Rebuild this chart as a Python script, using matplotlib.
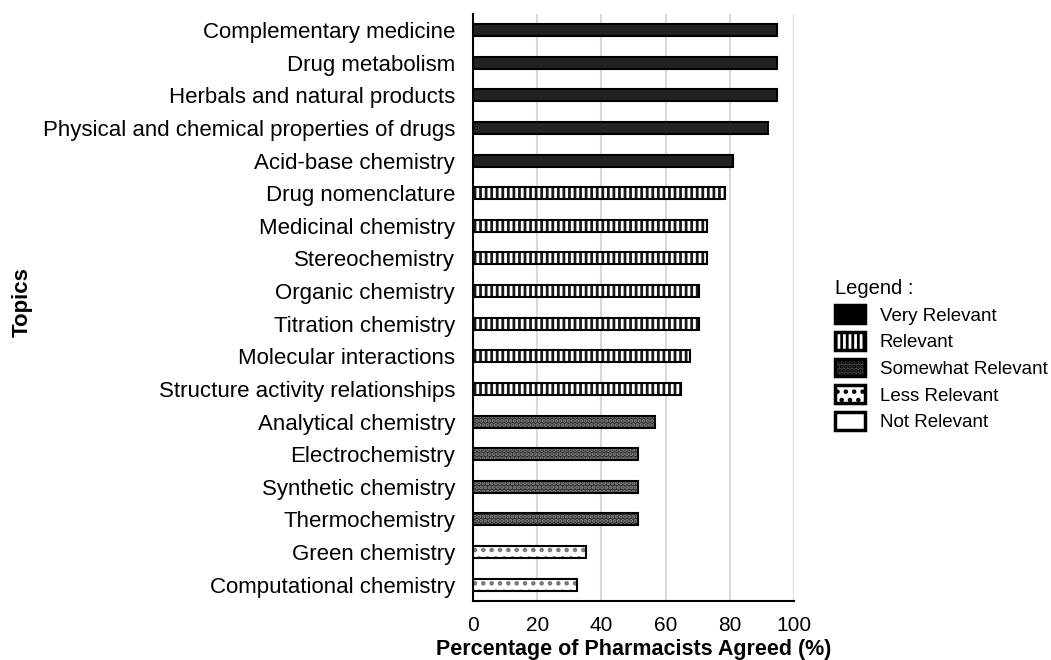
import numpy as np
import matplotlib.pyplot as plt
from matplotlib.patches import Patch

plt.rcParams['font.family'] = ['Liberation Sans', 'DejaVu Sans']
plt.rcParams['hatch.linewidth'] = 2.0

topics = [
    "Complementary medicine", "Drug metabolism", "Herbals and natural products",
    "Physical and chemical properties of drugs", "Acid-base chemistry",
    "Drug nomenclature", "Medicinal chemistry", "Stereochemistry",
    "Organic chemistry", "Titration chemistry", "Molecular interactions",
    "Structure activity relationships", "Analytical chemistry",
    "Electrochemistry", "Synthetic chemistry", "Thermochemistry",
    "Green chemistry", "Computational chemistry",
]
agreed = [94.6, 94.6, 94.6, 91.9, 81.1, 78.4, 73.0, 73.0, 70.3, 70.3,
          67.6, 64.9, 56.8, 51.4, 51.4, 51.4, 35.1, 32.4]
relevance = ["Very Relevant"] * 5 + ["Relevant"] * 7 + ["Somewhat Relevant"] * 4 + ["Less Relevant"] * 2

legend_labels = ["Very Relevant", "Relevant", "Somewhat Relevant", "Less Relevant", "Not Relevant"]

# fill style per category: (facecolor, hatch colour, hatch)
styles = {
    "Very Relevant": ("#222222", "#222222", None),
    "Relevant": ("white", "#1a1a1a", "|||"),
    "Somewhat Relevant": ("#262626", "#8c8c8c", "...."),
    "Less Relevant": ("white", "#777777", ".."),
    "Not Relevant": ("white", "white", None),
}

fig = plt.figure(figsize=(10.51, 6.6), dpi=100)
ax = fig.add_axes([0.450, 0.0894, 0.3055, 0.8897])

y = np.arange(len(topics))
for cat in legend_labels:
    idx = [i for i, r in enumerate(relevance) if r == cat]
    if not idx:
        continue
    fc, hc, hatch = styles[cat]
    vals = [agreed[i] for i in idx]
    ax.barh(y[idx], vals, height=0.37, color=fc, edgecolor=hc, hatch=hatch,
            linewidth=0, zorder=2)
    ax.barh(y[idx], vals, height=0.37, fill=False, edgecolor="black",
            linewidth=1.5, zorder=3)

ax.set_ylim(len(topics) - 0.5, -0.5)
ax.set_xlim(0, 100)
ax.set_xticks(range(0, 101, 20))
ax.set_yticks(y)
ax.set_yticklabels(topics, fontsize=16)
ax.tick_params(axis="x", labelsize=15, length=0, pad=11)
ax.tick_params(axis="y", length=0, pad=13)
ax.grid(axis="x", color="#d9d9d9", linewidth=1.5, zorder=0)
ax.set_axisbelow(True)
for s in ["top", "right"]:
    ax.spines[s].set_visible(False)
ax.spines["left"].set_linewidth(1.5)
ax.spines["bottom"].set_linewidth(1.5)

ax.set_xlabel("Percentage of Pharmacists Agreed (%)", fontsize=15.5,
              fontweight="bold", labelpad=3)
fig.text(22 / 1051, 1 - 302 / 660, "Topics", rotation=90, fontsize=16,
         fontweight="bold", ha="center", va="center")

handles = []
for cat in legend_labels:
    fc, hc, hatch = styles[cat]
    if cat == "Very Relevant":
        fc = "black"
    if cat == "Somewhat Relevant":
        fc = "#444444"
    handles.append(Patch(facecolor=fc, edgecolor="black", hatch=hatch, linewidth=2.5))

leg = fig.legend(handles, legend_labels, title="Legend :", loc="upper left",
                 bbox_to_anchor=(818 / 1051, 1 - 262 / 660), frameon=False,
                 fontsize=13.5, title_fontsize=14.5, handlelength=1.6,
                 handleheight=1.07, labelspacing=0.4, handletextpad=0.8,
                 alignment="left")

fig.savefig("out.png", dpi=100)
